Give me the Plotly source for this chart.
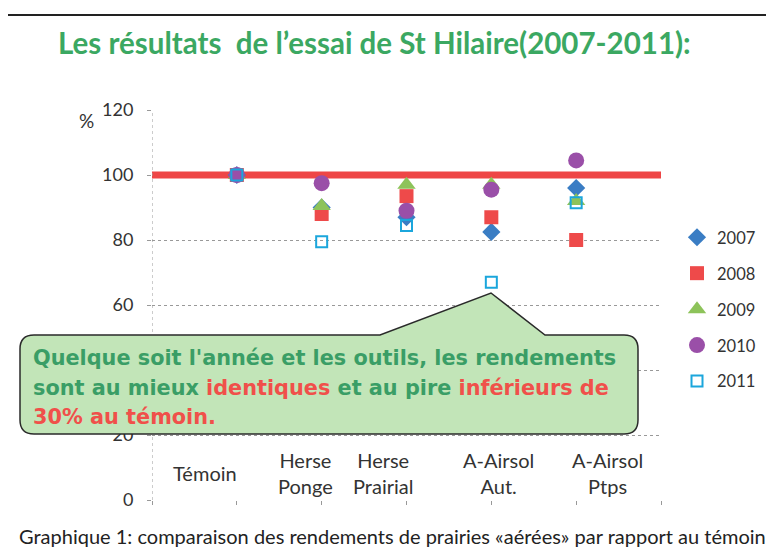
import plotly.graph_objects as go

# ---- data ----
categories = ["Témoin", "Herse Ponge", "Herse Prairial", "A-Airsol Aut.", "A-Airsol Ptps"]
category_labels = ["Témoin", "Herse<br>Ponge", "Herse<br>Prairial", "A-Airsol<br>Aut.", "A-Airsol<br>Ptps"]
years = ["2007", "2008", "2009", "2010", "2011"]
y2007 = [100, 90, 87, 82.5, 96]
y2008 = [100, 88, 93.5, 87, 80]
y2009 = [100, 90.5, 97, 97, 92]
y2010 = [100, 97.5, 89, 95.5, 104.5]
y2011 = [100, 79.5, 84.5, 67, 91.5]
reference_value = 100
y_ticks = [0, 20, 40, 60, 80, 100, 120]

# ---- geometry (pixels in the reference picture) ----
OFF = 8  # page body margin added by the browser
W, H = 774 - OFF, 553 - OFF
L, R, T, B = 152, 661, 110, 500  # plot area in reference pixels
PW, PH = R - L, B - T


def px(x):
    return (x - L) / PW


def py(y):
    return (B - y) / PH


x_idx = list(range(1, len(categories) + 1))

styles = {
    "2007": dict(symbol="diamond", size=14, color="#3A7DC4"),
    "2008": dict(symbol="square", size=14, color="#EE4A4A"),
    "2009": dict(symbol="triangle-up", size=16, color="#8DC35A"),
    "2010": dict(symbol="circle", size=16, color="#9A4FA8"),
    "2011": dict(symbol="square-open", size=11, color="#1BA6DC", line=dict(width=2, color="#1BA6DC")),
}
series = [y2007, y2008, y2009, y2010, y2011]

fig = go.Figure()
fig.add_trace(go.Scatter(
    x=[0, 6], y=[reference_value, reference_value], mode="lines",
    line=dict(color="#EE4646", width=7), showlegend=False, hoverinfo="skip"))

for yr, vals in zip(years, series):
    fig.add_trace(go.Scatter(
        x=x_idx, y=vals, mode="markers", name=yr, legendgroup=yr,
        marker=dict(styles[yr])))

shapes = []
# y axis line (dotted)
shapes.append(dict(type="line", xref="x", yref="y", x0=0, x1=0, y0=0, y1=120,
                   line=dict(color="#999", width=1, dash="dot")))
# outer frame
shapes.append(dict(type="line", xref="paper", yref="paper", x0=px(7), x1=px(790),
                   y0=py(15), y1=py(15), line=dict(color="#222", width=2)))
shapes.append(dict(type="line", xref="paper", yref="paper", x0=px(7), x1=px(7),
                   y0=py(15), y1=py(570), line=dict(color="#222", width=2)))

# callout box
bl, br, bt, bb, r = 20, 638, 335, 434, 14
pts = [
    ("M", (bl + r, bt)), ("L", (380, bt)), ("L", (491, 293)), ("L", (545, bt)),
    ("L", (br - r, bt)), ("Q", (br, bt), (br, bt + r)), ("L", (br, bb - r)),
    ("Q", (br, bb), (br - r, bb)), ("L", (bl + r, bb)), ("Q", (bl, bb), (bl, bb - r)),
    ("L", (bl, bt + r)), ("Q", (bl, bt), (bl + r, bt)),
]
path = ""
for p in pts:
    coords = " ".join(f"{px(a):.5f},{py(b):.5f}" for a, b in p[1:])
    path += f"{p[0]} {coords} "
path += "Z"
shapes.append(dict(type="path", xref="paper", yref="paper", path=path,
                   fillcolor="#C2E5B8", line=dict(color="#2a2a2a", width=1.5), layer="above"))

annotations = []
# title
annotations.append(dict(text="<b>Les résultats  de l’essai de St Hilaire(2007-2011):</b>",
                        xref="paper", yref="paper", x=px(374), y=py(43), showarrow=False,
                        font=dict(family="Lato", size=29.5, color="#3BA862"),
                        xanchor="center", yanchor="middle"))
# percent label
annotations.append(dict(text="%", xref="paper", yref="paper", x=px(86), y=py(120),
                        showarrow=False, font=dict(family="Lato", size=19, color="#333"),
                        xanchor="center", yanchor="middle"))
# category labels
label_px = [205, 305, 383, 498, 607]
for lab, lx in zip(category_labels, label_px):
    annotations.append(dict(text=lab, xref="paper", yref="paper", x=px(lx), y=py(473),
                            showarrow=False, font=dict(family="Lato", size=20, color="#333"),
                            xanchor="center", yanchor="middle", align="center"))
# callout text
G, Rd = "#3A9E66", "#F0504A"
lines = [
    f"<span style='color:{G}'>Quelque soit l'année et les outils, les rendements</span>",
    f"<span style='color:{G}'>sont au mieux </span><span style='color:{Rd}'>identiques</span>"
    f"<span style='color:{G}'> et au pire </span><span style='color:{Rd}'>inférieurs de</span>",
    f"<span style='color:{Rd}'>30% au témoin.</span>",
]
for ln, ly in zip(lines, [358, 388, 417]):
    annotations.append(dict(text=f"<b>{ln}</b>", xref="paper", yref="paper", x=px(31), y=py(ly),
                            showarrow=False, font=dict(family="DejaVu Sans", size=20.8),
                            xanchor="left", yanchor="middle"))
# caption
annotations.append(dict(text="Graphique 1: comparaison des rendements de prairies «aérées» par rapport au témoin",
                        xref="paper", yref="paper", x=px(392), y=py(536), showarrow=False,
                        font=dict(family="Lato", size=20, color="#222"),
                        xanchor="center", yanchor="middle"))

fig.update_layout(
    width=W, height=H, autosize=False,
    margin=dict(l=L - OFF, r=W - (R - OFF), t=T - OFF, b=H - (B - OFF), pad=0),
    paper_bgcolor="white", plot_bgcolor="white",
    shapes=shapes, annotations=annotations,
    xaxis=dict(range=[0, 6], showgrid=False, zeroline=False, showline=False,
               tickvals=list(range(0, 7)), showticklabels=False,
               ticks="outside", ticklen=4, tickcolor="#999"),
    yaxis=dict(range=[0, 120], tickvals=y_ticks, showgrid=True, gridcolor="#999",
               griddash="dot", gridwidth=1, zeroline=False, showline=False,
               ticks="outside", ticklen=4, tickcolor="#999",
               tickfont=dict(family="Lato", size=18, color="#333"), ticklabelstandoff=10),
    legend=dict(x=px(677), y=py(220), xanchor="left", yanchor="top",
                font=dict(family="Lato", size=16.5, color="#333"),
                tracegroupgap=11.5, bgcolor="rgba(0,0,0,0)"),
    showlegend=True,
)

fig.write_html("out.html")
